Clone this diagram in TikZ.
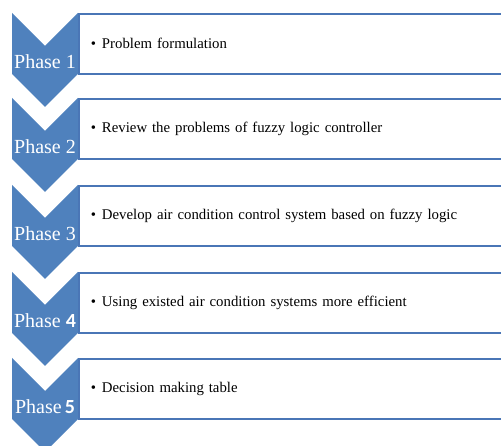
\documentclass[tikz,border=0pt]{standalone}
\usepackage{fontspec}
\setmainfont{Liberation Serif}
\newfontfamily\digitfont{Carlito}
\usetikzlibrary{positioning}

\definecolor{phaseblue}{RGB}{79,129,189}
\definecolor{boxline}{RGB}{74,118,182}

\tikzset{
  taskbox/.style={draw=boxline, line width=1.6pt, fill=white, anchor=north west,
                  minimum height=60pt, text width=430pt, inner xsep=12pt, align=left,
                  font=\fontsize{14.8}{17}\selectfont},
  phaselabel/.style={text=white, font=\fontsize{20}{22}\selectfont, inner sep=0pt}
}

\begin{document}
\begin{tikzpicture}[x=1pt, y=-1pt]
  \useasboundingbox (0,0) rectangle (501,446);
  \clip (0,0) rectangle (501,446);
  \foreach \y/\phs/\task [count=\i] in {13/{1}/{Problem formulation},
                             98/{2}/{Review the problems of fuzzy logic controller},
                             185/{3}/{Develop air condition control system based on fuzzy logic},
                             272/{\digitfont\bfseries 4}/{Using existed air condition systems more efficient},
                             358/{\hspace{-2pt}\digitfont\bfseries 5}/{Decision making table}} {
    % chevron pointing down
    \fill[phaseblue] (12,\y) -- (45,\y+33) -- (78,\y) -- (78,\y+61)
                     -- (45,\y+94) -- (12,\y+61) -- cycle;
    \node[taskbox] (task\i) at (78,\y) {\textbullet\hspace{6pt}\task};
    \node[phaselabel] (phase\i) at (45,\y+49) {Phase \phs};
  }
\end{tikzpicture}
\end{document}
